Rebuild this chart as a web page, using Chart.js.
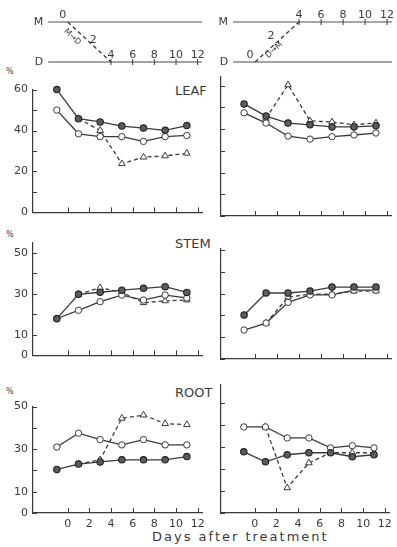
<!DOCTYPE html>
<html>
<head>
<meta charset="utf-8">
<script src="https://cdn.jsdelivr.net/npm/chart.js@4"></script>
<style>
body{margin:0;background:#fff;width:397px;height:547px;overflow:hidden;position:relative;font-family:"DejaVu Sans",sans-serif;color:#3a3a3a}
canvas{position:absolute}
.lbl{position:absolute;font-size:13px;white-space:nowrap;line-height:1;color:#3a3a3a}
.pct{position:absolute;font-size:8px;line-height:1;color:#3a3a3a}
</style>
</head>
<body>
<div class="pct" style="left:6px;top:68px">%</div>
<div class="pct" style="left:6px;top:231px">%</div>
<div class="pct" style="left:6px;top:388px">%</div>
<div class="lbl" style="left:175px;top:84px">LEAF</div>
<div class="lbl" style="left:175px;top:237px">STEM</div>
<div class="lbl" style="left:175px;top:386px">ROOT</div>
<div class="lbl" style="left:152px;top:530px;letter-spacing:2px">Days after treatment</div>
<script>
// sampling days
const days = [-1, 1, 3, 5, 7, 9, 11];
const switchDays = [1, 3, 5, 7, 9, 11];
const xTicks = [0, 2, 4, 6, 8, 10, 12];

// left column (M -> D)
const leafFilledL = [60, 45.8, 44.2, 42.2, 41.2, 40.1, 42.4];
const leafOpenL = [50, 38.4, 37, 37, 34.7, 37, 37.6];
const leafTriL = [45.8, 40, 23.8, 27, 27.6, 28.9];
const stemFilledL = [17.9, 29.8, 30.8, 31.8, 32.7, 33.5, 30.7];
const stemOpenL = [18, 22, 26.2, 29.4, 27, 29.4, 28];
const stemTriL = [29.8, 33, 30.7, 25.7, 26.6, 27];
const rootFilledL = [20.5, 23, 24, 25, 25, 25, 26.5];
const rootOpenL = [31, 37.5, 34.5, 32, 34.5, 32, 32];
const rootTriL = [23, 25, 44.5, 46, 42, 41.5];

// right column (D -> M)
const leafFilledR = [51.6, 46, 42.8, 42, 41, 41, 41.5];
const leafOpenR = [47.5, 42.8, 36.8, 35.4, 36.5, 37.3, 38.2];
const leafTriR = [45, 60.4, 43.8, 43.3, 42, 42.8];
const stemFilledR = [20.2, 30.3, 30.3, 31.2, 33, 33, 33];
const stemOpenR = [13.3, 16.5, 26, 29.4, 29.4, 31.6, 31.6];
const stemTriR = [16.5, 28.4, 29.8, 29.8, 31.2, 31.2];
const rootFilledR = [27.7, 23.2, 26.4, 27.3, 27.3, 25.5, 26.4];
const rootOpenR = [39, 39, 34, 34, 29.5, 30.5, 29.5];
const rootTriR = [39, 11.4, 22.7, 27.3, 27.3, 27.3];

// y ticks / labels
const yTicksLeaf = [0, 10, 20, 30, 40, 50, 60];
const yLabelsLeaf = [0, 20, 40, 60];
const yTicksStem = [0, 10, 20, 30, 40, 50];
const yLabelsStem = [0, 10, 30, 50];

// schematic on top
const schemeDays = [4, 6, 8, 10, 12];
const transfer = [0, 4];
const schemeLineFrom = [-1.8, -2.0];

const ink = '#3a3a3a';
const fontFam = '"DejaVu Sans", sans-serif';

const colL = {left: 0, axisW: 33, plotW: 169, padR: 8, xMin: -3.2, xMax: 12.4, labels: true};
const colR = {left: 213, axisW: 8, plotW: 171, padR: 5, xMin: -3.1, xMax: 12.45, labels: false};

function addCanvas(left, top, w, h) {
    var c = document.createElement('canvas');
    c.width = w; c.height = h;
    c.style.left = left + 'px'; c.style.top = top + 'px';
    c.style.width = w + 'px'; c.style.height = h + 'px';
    document.body.appendChild(c);
    return c;
}

const pts = (xs, ys) => ys.map((v, i) => ({x: xs[i], y: v}));

// tick marks pointing into the plot
const innerTicks = {
    id: 'innerTicks',
    beforeDatasetsDraw(chart) {
        const {ctx, scales: {x, y}, chartArea: a} = chart;
        ctx.save();
        ctx.strokeStyle = ink; ctx.lineWidth = 1;
        ctx.beginPath();
        x.ticks.forEach(t => {
            var px = Math.round(x.getPixelForValue(t.value)) + 0.5;
            ctx.moveTo(px, a.bottom); ctx.lineTo(px, a.bottom - 5);
        });
        y.ticks.forEach(t => {
            var py = Math.round(y.getPixelForValue(t.value)) + 0.5;
            ctx.moveTo(a.left, py); ctx.lineTo(a.left + 4, py);
        });
        ctx.stroke();
        ctx.restore();
    }
};

function panel(col, base, k, yMax, yTicks, yLabels, filled, open, tri, bottom) {
    var plotH = k * yMax;
    var xH = bottom ? 20 : 8;
    var w = col.axisW + col.plotW + col.padR;
    var cv = addCanvas(col.left, Math.round(base - plotH - 8), w, Math.round(8 + plotH + xH));
    new Chart(cv, {
        type: 'scatter',
        data: {
            datasets: [
                {data: pts(days, filled), showLine: true, borderColor: ink, borderWidth: 1.3,
                 pointRadius: 3.2, pointBackgroundColor: '#5c5c5c', pointBorderColor: '#222', pointBorderWidth: 1.1, clip: 8},
                {data: pts(days, open), showLine: true, borderColor: ink, borderWidth: 1.3,
                 pointRadius: 3.2, pointBackgroundColor: '#fff', pointBorderColor: ink, pointBorderWidth: 1, clip: 8},
                {data: pts(switchDays, tri), showLine: true, borderColor: ink, borderWidth: 1.3, borderDash: [4, 3],
                 pointStyle: 'triangle', pointRadius: 3.8, pointBackgroundColor: '#fff', pointBorderColor: ink, pointBorderWidth: 1, clip: 8}
            ]
        },
        options: {
            responsive: false,
            animation: false,
            layout: {padding: {top: 8, right: col.padR, left: 0, bottom: 0}},
            plugins: {legend: {display: false}, tooltip: {enabled: false}},
            scales: {
                x: {
                    type: 'linear', min: col.xMin, max: col.xMax,
                    grid: {display: false, drawTicks: false},
                    border: {display: true, color: ink, width: 1.2},
                    afterBuildTicks: s => { s.ticks = xTicks.map(v => ({value: v})); },
                    afterFit: s => { s.height = xH; },
                    ticks: {display: bottom, autoSkip: false, maxRotation: 0, padding: 5, color: ink,
                            font: {family: fontFam, size: 11}}
                },
                y: {
                    min: 0, max: yMax,
                    grid: {display: false, drawTicks: false},
                    border: {display: true, color: ink, width: 1.2},
                    afterBuildTicks: s => { s.ticks = yTicks.map(v => ({value: v})); },
                    afterFit: s => { s.width = col.axisW; },
                    ticks: {display: col.labels, autoSkip: false, padding: 5, color: ink,
                            font: {family: fontFam, size: 11},
                            callback: v => yLabels.includes(v) ? String(v) : ''}
                }
            }
        },
        plugins: [innerTicks]
    });
}

// schematic labels
const schemeText = {
    id: 'schemeText',
    afterDatasetsDraw(chart, args, o) {
        const {ctx, scales: {x, y}} = chart;
        var yM = y.getPixelForValue(1), yD = y.getPixelForValue(0);
        var yEnd = o.toM ? yM : yD;
        ctx.save();
        ctx.fillStyle = ink; ctx.strokeStyle = ink; ctx.lineWidth = 1;
        ctx.font = '11px ' + fontFam;
        ctx.textAlign = 'center'; ctx.textBaseline = 'alphabetic';
        schemeDays.forEach(v => {
            var px = x.getPixelForValue(v);
            ctx.fillText(String(v), px, yEnd - 4);
            ctx.beginPath(); ctx.moveTo(px, yEnd - 3); ctx.lineTo(px, yEnd + 3); ctx.stroke();
        });
        var x0 = x.getPixelForValue(transfer[0]);
        var yStart = o.toM ? yD : yM;
        ctx.fillText('0', x0 - 5, yStart - 4);
        var x2 = x.getPixelForValue(2), yMid = (yM + yD) / 2;
        ctx.fillText('2', o.toM ? x2 - 6 : x2 + 4, yMid + (o.toM ? -3 : 1));
        // line names
        ctx.textAlign = 'right'; ctx.textBaseline = 'middle';
        var xs = x.getPixelForValue(o.from);
        ctx.fillText('M', xs - 5, yM);
        ctx.fillText('D', xs - 5, yD);
        // direction text along the diagonal
        var x4 = x.getPixelForValue(transfer[1]);
        var ang = Math.atan2(o.toM ? (yM - yD) : (yD - yM), x4 - x0);
        ctx.translate(x.getPixelForValue(1) + (o.toM ? 8 : -6), yMid + (o.toM ? 8 : -5));
        ctx.rotate(ang);
        ctx.textAlign = 'center';
        ctx.font = '8px ' + fontFam;
        ctx.fillText(o.toM ? 'D\u2192M' : 'M\u2192D', 0, 0);
        ctx.restore();
    }
};

function scheme(col, from, toM) {
    var w = col.axisW + col.plotW + col.padR;
    var cv = addCanvas(col.left, 0, w, 80);
    var diag = toM ? [{x: transfer[0], y: 0}, {x: transfer[1], y: 1}]
                   : [{x: transfer[0], y: 1}, {x: transfer[1], y: 0}];
    new Chart(cv, {
        type: 'scatter',
        data: {
            datasets: [
                {data: [{x: from, y: 1}, {x: col.xMax, y: 1}], showLine: true, borderColor: '#5a5050', borderWidth: 1.2, pointRadius: 0, clip: false},
                {data: [{x: from, y: 0}, {x: col.xMax, y: 0}], showLine: true, borderColor: '#4a4a4a', borderWidth: 1.2, pointRadius: 0, clip: false},
                {data: diag, showLine: true, borderColor: ink, borderWidth: 1.3, borderDash: [4, 3], pointRadius: 0, clip: false}
            ]
        },
        options: {
            responsive: false,
            animation: false,
            layout: {padding: {top: 22, bottom: 18, left: col.axisW, right: col.padR}},
            plugins: {legend: {display: false}, tooltip: {enabled: false},
                      schemeText: {toM: toM, from: from}},
            scales: {
                x: {type: 'linear', display: false, min: col.xMin, max: col.xMax},
                y: {display: false, min: 0, max: 1}
            }
        },
        plugins: [schemeText]
    });
}

scheme(colL, schemeLineFrom[0], false);
scheme(colR, schemeLineFrom[1], true);

panel(colL, 216, 2.17, 60, yTicksLeaf, yLabelsLeaf, leafFilledL, leafOpenL, leafTriL, false);
panel(colR, 216, 2.17, 64, yTicksLeaf, yLabelsLeaf, leafFilledR, leafOpenR, leafTriR, false);
panel(colL, 359, 2.18, 55, yTicksStem, yLabelsStem, stemFilledL, stemOpenL, stemTriL, false);
panel(colR, 359, 2.18, 50.5, yTicksStem, yLabelsStem, stemFilledR, stemOpenR, stemTriR, false);
panel(colL, 513, 2.2, 50, yTicksStem, yLabelsStem, rootFilledL, rootOpenL, rootTriL, true);
panel(colR, 513, 2.2, 58, yTicksStem, yLabelsStem, rootFilledR, rootOpenR, rootTriR, true);
</script>
</body>
</html>
